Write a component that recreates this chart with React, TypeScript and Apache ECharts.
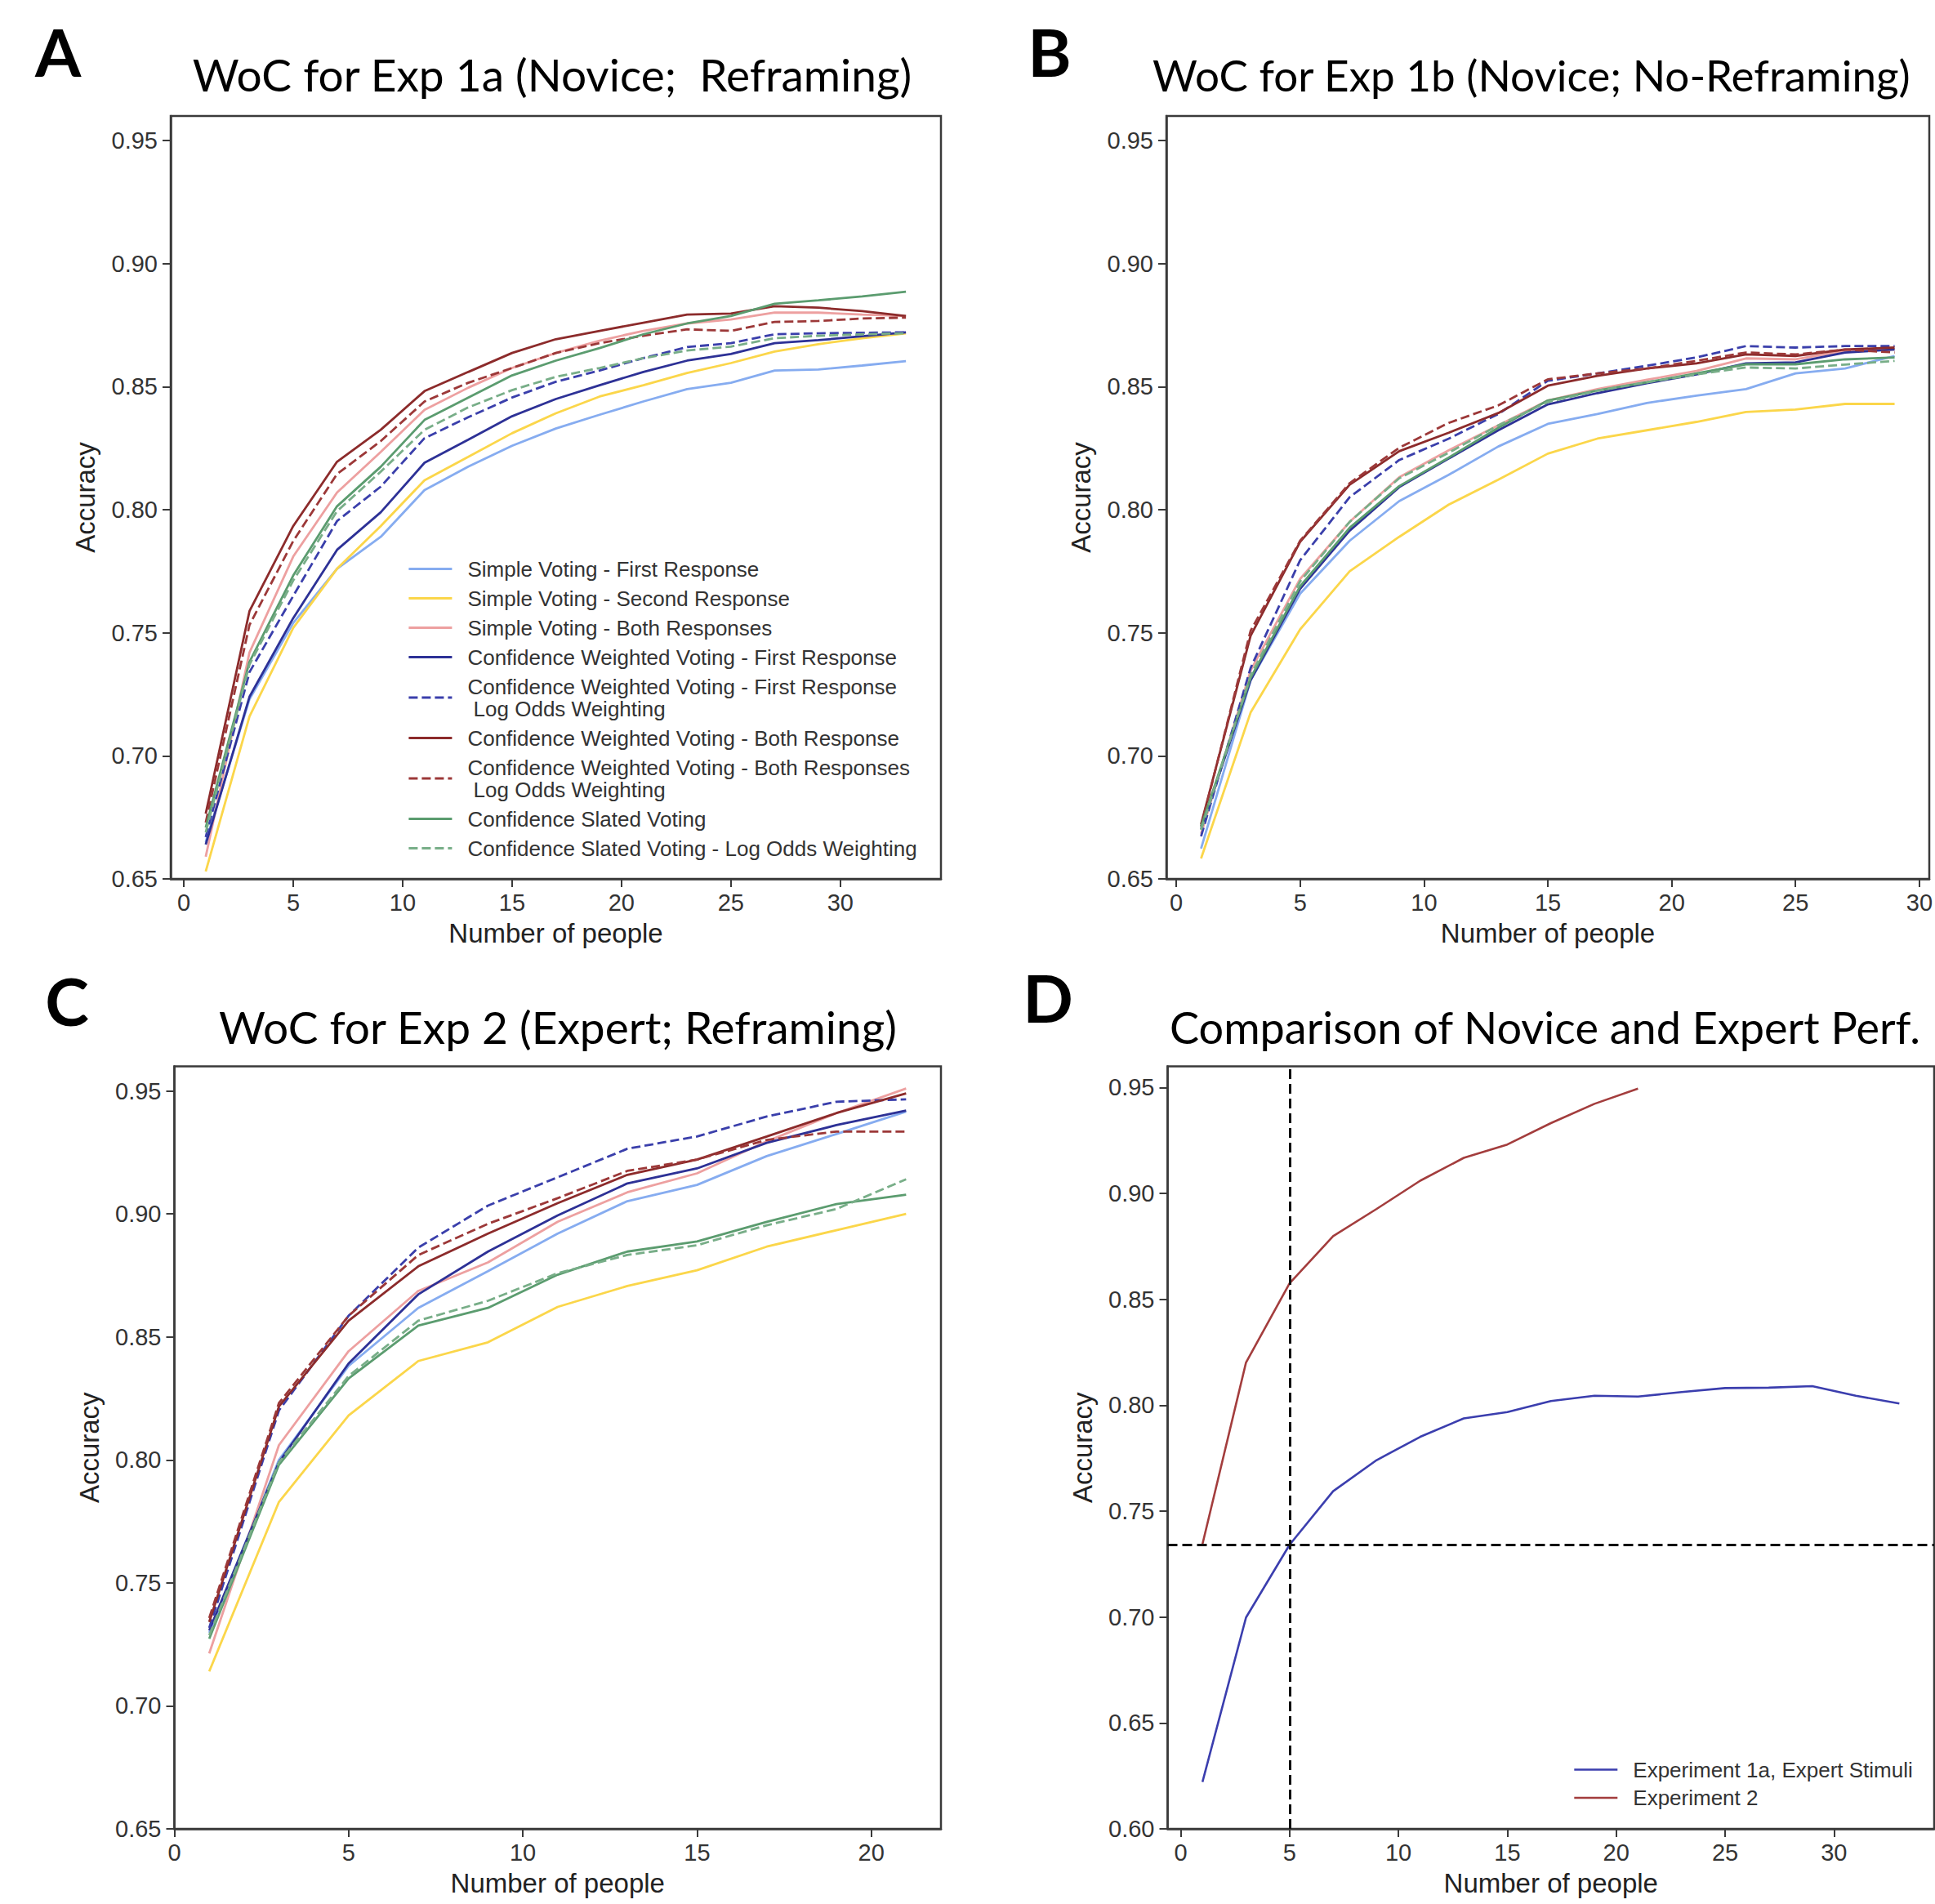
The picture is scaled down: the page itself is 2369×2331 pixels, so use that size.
import React, { useEffect, useRef } from 'react';
import * as echarts from 'echarts';

// ---------- categories / x values ----------
const X_A = [1, 3, 5, 7, 9, 11, 13, 15, 17, 19, 21, 23, 25, 27, 29, 31, 33];
const X_B = [1, 3, 5, 7, 9, 11, 13, 15, 17, 19, 21, 23, 25, 27, 29];
const X_C = [1, 3, 5, 7, 9, 11, 13, 15, 17, 19, 21];
const X_D1 = [1, 3, 5, 7, 9, 11, 13, 15, 17, 19, 21, 23, 25, 27, 29, 31, 33];
const X_D2 = [1, 3, 5, 7, 9, 11, 13, 15, 17, 19, 21];

const X_TICKS_AD = [0, 5, 10, 15, 20, 25, 30];
const X_TICKS_B = [0, 5, 10, 15, 20, 25, 30];
const X_TICKS_C = [0, 5, 10, 15, 20];
const Y_TICKS_ABC = [0.65, 0.7, 0.75, 0.8, 0.85, 0.9, 0.95];
const Y_TICKS_D = [0.6, 0.65, 0.7, 0.75, 0.8, 0.85, 0.9, 0.95];

const NAMES = [
  'Simple Voting - First Response',
  'Simple Voting - Second Response',
  'Simple Voting - Both Responses',
  'Confidence Weighted Voting - First Response',
  'Confidence Weighted Voting - First Response\n Log Odds Weighting',
  'Confidence Weighted Voting - Both Response',
  'Confidence Weighted Voting - Both Responses\n Log Odds Weighting',
  'Confidence Slated Voting',
  'Confidence Slated Voting - Log Odds Weighting',
];
const D_NAMES = ['Experiment 1a, Expert Stimuli', 'Experiment 2'];

const TITLES = [
  'WoC for Exp 1a (Novice;  Reframing)',
  'WoC for Exp 1b (Novice; No-Reframing)',
  'WoC for Exp 2 (Expert; Reframing)',
  'Comparison of Novice and Expert Perf.',
];
const LETTERS = ['A', 'B', 'C', 'D'];

// ---------- Panel A ----------
const A_SV_FIRST = [0.665, 0.723, 0.754, 0.776, 0.789, 0.808, 0.8175, 0.826, 0.833, 0.8386, 0.844, 0.849, 0.8516, 0.8566, 0.857, 0.8586, 0.8604];
const A_SV_SECOND = [0.653, 0.716, 0.752, 0.776, 0.7934, 0.812, 0.8215, 0.8311, 0.8392, 0.846, 0.8506, 0.8556, 0.8596, 0.8643, 0.8673, 0.8697, 0.8717];
const A_SV_BOTH = [0.659, 0.742, 0.781, 0.807, 0.8235, 0.8406, 0.8496, 0.8576, 0.8637, 0.8687, 0.8727, 0.8757, 0.8773, 0.8801, 0.8801, 0.8793, 0.8787];
const A_CW_FIRST = [0.664, 0.724, 0.756, 0.7837, 0.799, 0.8191, 0.8285, 0.838, 0.845, 0.8506, 0.856, 0.8606, 0.8633, 0.8677, 0.8689, 0.8705, 0.8721];
const A_CW_FIRST_LO = [0.667, 0.734, 0.765, 0.7954, 0.8094, 0.8291, 0.8376, 0.8456, 0.852, 0.8566, 0.8616, 0.8661, 0.8677, 0.8713, 0.8717, 0.8719, 0.8721];
const A_CW_BOTH = [0.6765, 0.7588, 0.7934, 0.8195, 0.8325, 0.8482, 0.856, 0.8637, 0.8693, 0.8727, 0.876, 0.8793, 0.8797, 0.8827, 0.8821, 0.8807, 0.8787];
const A_CW_BOTH_LO = [0.6729, 0.7532, 0.7873, 0.8145, 0.8279, 0.844, 0.8516, 0.8576, 0.8637, 0.8677, 0.8707, 0.8733, 0.8727, 0.8763, 0.8767, 0.8777, 0.8781];
const A_SLATED = [0.6709, 0.7382, 0.7733, 0.8014, 0.8175, 0.8365, 0.8456, 0.8546, 0.8606, 0.8657, 0.8713, 0.8757, 0.8787, 0.8837, 0.8851, 0.8867, 0.8886];
const A_SLATED_LO = [0.6689, 0.7371, 0.7713, 0.7994, 0.8155, 0.8325, 0.8416, 0.8486, 0.854, 0.8576, 0.8616, 0.8647, 0.8663, 0.8697, 0.8707, 0.8713, 0.8717];

// ---------- Panel B ----------
const B_SV_FIRST = [0.6623, 0.7307, 0.7659, 0.7874, 0.8035, 0.8142, 0.8257, 0.8349, 0.8389, 0.8434, 0.8464, 0.849, 0.8554, 0.8574, 0.8625];
const B_SV_SECOND = [0.6583, 0.7176, 0.7514, 0.775, 0.789, 0.8021, 0.8122, 0.8228, 0.8289, 0.8323, 0.8357, 0.8397, 0.8407, 0.843, 0.843];
const B_SV_BOTH = [0.6683, 0.7347, 0.7719, 0.7951, 0.8132, 0.8242, 0.8343, 0.8444, 0.849, 0.8528, 0.8564, 0.8615, 0.8611, 0.8645, 0.8651];
const B_CW_FIRST = [0.6703, 0.7307, 0.7679, 0.7915, 0.8092, 0.8208, 0.8323, 0.8428, 0.8474, 0.8514, 0.855, 0.8595, 0.8599, 0.8639, 0.8651];
const B_CW_FIRST_LO = [0.6673, 0.7357, 0.7795, 0.8051, 0.8202, 0.8289, 0.8389, 0.8524, 0.8554, 0.8585, 0.8619, 0.8665, 0.8659, 0.8665, 0.8665];
const B_CW_BOTH = [0.6722, 0.7488, 0.787, 0.8102, 0.8238, 0.8313, 0.8393, 0.8504, 0.8544, 0.8574, 0.8595, 0.8631, 0.8625, 0.8651, 0.8659];
const B_CW_BOTH_LO = [0.6713, 0.7508, 0.7874, 0.8108, 0.8252, 0.8353, 0.8424, 0.853, 0.8554, 0.8574, 0.8605, 0.8639, 0.8631, 0.8651, 0.8639];
const B_SLATED = [0.6713, 0.7317, 0.7689, 0.7927, 0.8096, 0.8212, 0.8333, 0.8444, 0.8484, 0.8518, 0.8554, 0.8591, 0.8591, 0.8611, 0.8619];
const B_SLATED_LO = [0.6699, 0.7327, 0.7709, 0.7951, 0.8128, 0.8232, 0.8343, 0.8438, 0.8484, 0.8518, 0.855, 0.8578, 0.8574, 0.859, 0.8605];

// ---------- Panel C ----------
const C_SV_FIRST = [0.7297, 0.8, 0.8382, 0.8618, 0.8767, 0.892, 0.9052, 0.9118, 0.9235, 0.9325, 0.9416];
const C_SV_SECOND = [0.714, 0.7829, 0.8181, 0.8402, 0.8478, 0.8622, 0.8707, 0.8771, 0.8867, 0.8934, 0.9];
const C_SV_BOTH = [0.7213, 0.806, 0.8442, 0.8687, 0.8803, 0.8968, 0.9088, 0.9165, 0.9295, 0.941, 0.951];
const C_CW_FIRST = [0.7307, 0.799, 0.8392, 0.8673, 0.8847, 0.8994, 0.9124, 0.9185, 0.9289, 0.9361, 0.942];
const C_CW_FIRST_LO = [0.7317, 0.8201, 0.8586, 0.8863, 0.9034, 0.9149, 0.9265, 0.9315, 0.9396, 0.9456, 0.9466];
const C_CW_BOTH = [0.7341, 0.8217, 0.8566, 0.8787, 0.892, 0.9044, 0.9159, 0.9221, 0.9315, 0.941, 0.949];
const C_CW_BOTH_LO = [0.7357, 0.8231, 0.8586, 0.8833, 0.896, 0.9064, 0.9175, 0.9221, 0.9301, 0.9335, 0.9335];
const C_SLATED = [0.7273, 0.798, 0.8331, 0.8546, 0.8618, 0.8753, 0.8847, 0.8888, 0.8968, 0.904, 0.9078];
const C_SLATED_LO = [0.7287, 0.799, 0.8341, 0.8566, 0.8647, 0.8759, 0.8833, 0.8873, 0.8954, 0.902, 0.9141];

// ---------- Panel D ----------
const D_EXP1A = [0.6221, 0.6998, 0.7341, 0.7594, 0.7741, 0.7851, 0.7938, 0.7968, 0.802, 0.8045, 0.8041, 0.8062, 0.8081, 0.8083, 0.809, 0.8045, 0.8008];
const D_EXP2 = [0.7344, 0.8202, 0.8576, 0.8798, 0.8927, 0.906, 0.9168, 0.9231, 0.9332, 0.9423, 0.9495];
const D_REF_X = 5;
const D_REF_Y = 0.7341;

// ---------- styles ----------
const COLORS = ['#86acf0', '#fbd64a', '#eda0a0', '#2d3196', '#3a3fab', '#8c2b2b', '#9c3838', '#5b9c6f', '#78ae88'];
const DASHED = [false, false, false, false, true, false, true, false, true];
const D_COLORS = ['#3b3eae', '#a33d3d'];
const FONT = '"Liberation Sans", Arial, Helvetica, sans-serif';
const TITLE_FONT = 'Lato, "Open Sans", sans-serif';
const AXIS_COLOR = '#3a3a3a';
const TEXT_COLOR = '#333';

const GRIDS = [
  { left: 209, top: 142, width: 943, height: 934 },
  { left: 1428, top: 142, width: 940, height: 934 },
  { left: 213.5, top: 1305.5, width: 938.5, height: 933.5 },
  { left: 1429.5, top: 1305.5, width: 938.5, height: 933.5 },
];

function xAxisCfg(gridIndex: number, min: number, max: number, ticks: number[]) {
  return {
    type: 'value',
    gridIndex,
    min,
    max,
    axisLine: { show: true, onZero: false, lineStyle: { color: AXIS_COLOR, width: 2.5 } },
    axisTick: { show: true, inside: false, length: 10, customValues: ticks, lineStyle: { color: AXIS_COLOR, width: 2 } },
    axisLabel: { customValues: ticks, margin: 14, fontSize: 29, color: TEXT_COLOR, fontFamily: FONT, formatter: (v: number) => String(v) },
    splitLine: { show: false },
    name: 'Number of people',
    nameLocation: 'middle',
    nameGap: 50,
    nameTextStyle: { fontSize: 33, color: '#222', fontFamily: FONT },
  };
}

function yAxisCfg(gridIndex: number, min: number, max: number, ticks: number[]) {
  return {
    type: 'value',
    gridIndex,
    min,
    max,
    axisLine: { show: true, onZero: false, lineStyle: { color: AXIS_COLOR, width: 2.5 } },
    axisTick: { show: true, inside: false, length: 10, customValues: ticks, lineStyle: { color: AXIS_COLOR, width: 2 } },
    axisLabel: { customValues: ticks, margin: 16, fontSize: 29, color: TEXT_COLOR, fontFamily: FONT, formatter: (v: number) => v.toFixed(2) },
    splitLine: { show: false },
    name: 'Accuracy',
    nameLocation: 'middle',
    nameGap: 88,
    nameTextStyle: { fontSize: 33, color: '#222', fontFamily: FONT },
  };
}

function panelSeries(idx: number, xs: number[], arrays: number[][]) {
  return arrays.map((arr, k) => ({
    type: 'line',
    name: NAMES[k],
    xAxisIndex: idx,
    yAxisIndex: idx,
    data: xs.map((x, i) => [x, arr[i]]),
    symbol: 'none',
    showSymbol: false,
    silent: true,
    z: 2 + k,
    lineStyle: { color: COLORS[k], width: 2.8, type: DASHED[k] ? [11, 5] : 'solid' },
    itemStyle: { color: COLORS[k] },
    emphasis: { disabled: true },
  }));
}

function titleText(text: string, x: number, y: number, size: number, bold: boolean, align: string) {
  return {
    type: 'text',
    x,
    y,
    silent: true,
    style: {
      text,
      fontSize: size,
      fontWeight: bold ? 'bold' : 'normal',
      fontFamily: TITLE_FONT,
      fill: '#000',
      align,
      verticalAlign: 'middle',
      textAlign: align,
      textVerticalAlign: 'middle',
    },
  };
}

export default function App() {
  const ref = useRef<HTMLDivElement>(null);
  useEffect(() => {
    const chart = echarts.init(ref.current!, null, { renderer: 'svg' });
    const series: any[] = [
      ...panelSeries(0, X_A, [A_SV_FIRST, A_SV_SECOND, A_SV_BOTH, A_CW_FIRST, A_CW_FIRST_LO, A_CW_BOTH, A_CW_BOTH_LO, A_SLATED, A_SLATED_LO]),
      ...panelSeries(1, X_B, [B_SV_FIRST, B_SV_SECOND, B_SV_BOTH, B_CW_FIRST, B_CW_FIRST_LO, B_CW_BOTH, B_CW_BOTH_LO, B_SLATED, B_SLATED_LO]),
      ...panelSeries(2, X_C, [C_SV_FIRST, C_SV_SECOND, C_SV_BOTH, C_CW_FIRST, C_CW_FIRST_LO, C_CW_BOTH, C_CW_BOTH_LO, C_SLATED, C_SLATED_LO]),
      {
        type: 'line',
        name: D_NAMES[0],
        xAxisIndex: 3,
        yAxisIndex: 3,
        data: X_D1.map((x, i) => [x, D_EXP1A[i]]),
        symbol: 'none',
        showSymbol: false,
        silent: true,
        lineStyle: { color: D_COLORS[0], width: 2.6 },
        itemStyle: { color: D_COLORS[0] },
        emphasis: { disabled: true },
        markLine: {
          silent: true,
          precision: 4,
          symbol: ['none', 'none'],
          label: { show: false },
          lineStyle: { color: '#111', width: 3, type: [12, 6] },
          emphasis: { disabled: true },
          data: [{ xAxis: D_REF_X }, { yAxis: D_REF_Y }],
        },
      },
      {
        type: 'line',
        name: D_NAMES[1],
        xAxisIndex: 3,
        yAxisIndex: 3,
        data: X_D2.map((x, i) => [x, D_EXP2[i]]),
        symbol: 'none',
        showSymbol: false,
        silent: true,
        lineStyle: { color: D_COLORS[1], width: 2.6 },
        itemStyle: { color: D_COLORS[1] },
        emphasis: { disabled: true },
      },
    ];

    const legendText = { fontSize: 26, lineHeight: 27, color: TEXT_COLOR, fontFamily: FONT, padding: [0, 0, 0, 14] };

    const option: any = {
      animation: false,
      backgroundColor: '#ffffff',
      grid: GRIDS.map((g) => ({ ...g, show: true, borderColor: AXIS_COLOR, borderWidth: 2.5, backgroundColor: 'transparent', containLabel: false })),
      xAxis: [
        xAxisCfg(0, -0.6, 34.6, X_TICKS_AD),
        xAxisCfg(1, -0.4, 30.4, X_TICKS_B),
        xAxisCfg(2, 0, 22, X_TICKS_C),
        xAxisCfg(3, -0.6, 34.6, X_TICKS_AD),
      ],
      yAxis: [
        yAxisCfg(0, 0.65, 0.96, Y_TICKS_ABC),
        yAxisCfg(1, 0.65, 0.96, Y_TICKS_ABC),
        yAxisCfg(2, 0.65, 0.96, Y_TICKS_ABC),
        yAxisCfg(3, 0.6, 0.96, Y_TICKS_D),
      ],
      legend: [
        {
          data: NAMES,
          orient: 'vertical',
          left: 499,
          top: 683,
          padding: 0,
          itemWidth: 53,
          itemHeight: 14,
          itemGap: 9,
          selectedMode: false,
          itemStyle: { opacity: 0 },
          lineStyle: { width: 2.8 },
          textStyle: legendText,
        },
        {
          data: D_NAMES,
          orient: 'vertical',
          left: 1926,
          top: 2153,
          padding: 0,
          itemWidth: 53,
          itemHeight: 14,
          itemGap: 7.5,
          selectedMode: false,
          itemStyle: { opacity: 0 },
          lineStyle: { width: 2.6 },
          textStyle: legendText,
        },
      ],
      graphic: [
        titleText(LETTERS[0], 71, 62, 81, true, 'center'),
        titleText(LETTERS[1], 1285, 62, 81, true, 'center'),
        titleText(LETTERS[2], 82, 1224, 81, true, 'center'),
        titleText(LETTERS[3], 1283, 1220, 81, true, 'center'),
        titleText(TITLES[0], 676, 91, 55, false, 'center'),
        titleText(TITLES[1], 1411, 91, 53, false, 'left'),
        titleText(TITLES[2], 683, 1257, 55, false, 'center'),
        titleText(TITLES[3], 1432, 1257, 54, false, 'left'),
      ],
      series,
    };
    chart.setOption(option);
    return () => chart.dispose();
  }, []);
  return (
    <div
      ref={ref}
      style={{ position: 'absolute', left: 0, top: 0, width: 2369, height: 2331, background: '#fff' }}
    />
  );
}
